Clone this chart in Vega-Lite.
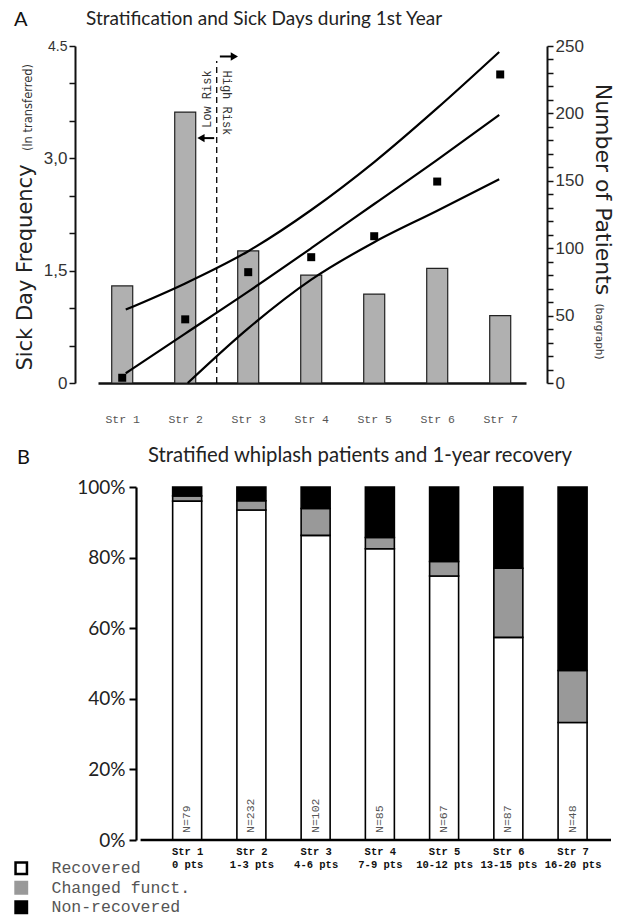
{
  "$schema": "https://vega.github.io/schema/vega-lite/v6.json",
  "background": "#ffffff",
  "padding": {"left": 13, "top": 10, "right": 5, "bottom": 5},
  "config": {"view": {"stroke": null}, "axis": {"grid": false}, "concat": {"spacing": 20}},
  "columns": 1,
  "spacing": 20,
  "resolve": {"scale": {"color": "independent", "shape": "independent"}, "legend": {"color": "independent", "shape": "independent"}},
  "concat": [
    {
      "title": {"text": "A", "anchor": "start", "font": "Lato", "fontSize": 20, "fontWeight": "normal", "color": "#111", "offset": -20},
      "resolve": {"scale": {"shape": "independent"}, "legend": {"shape": "independent"}},
      "vconcat": [
        {
          "width": 428,
          "height": 337,
          "title": {"text": "Stratification and Sick Days during 1st Year", "anchor": "start", "frame": "group", "dx": -12, "font": "Lato", "fontSize": 19, "fontWeight": "normal", "color": "#222", "offset": 8},
          "encoding": {
            "x": {
              "field": "stratum", "type": "quantitative", "title": null,
              "scale": {"domain": [0.695, 7.33], "nice": false, "zero": false},
              "axis": {"values": [1, 2, 3, 4, 5, 6, 7], "labelExpr": "'Str ' + datum.value", "ticks": false, "domainColor": "#111", "domainWidth": 2.5, "labelFont": "Liberation Mono", "labelFontSize": 11.5, "labelColor": "#555", "labelPadding": 30, "labelFlush": false, "labelOverlap": false}
            }
          },
          "layer": [
            {
              "data": {"values": [
                {"stratum": 1, "patients": 72}, {"stratum": 2, "patients": 201}, {"stratum": 3, "patients": 98},
                {"stratum": 4, "patients": 80}, {"stratum": 5, "patients": 66}, {"stratum": 6, "patients": 85}, {"stratum": 7, "patients": 50}
              ]},
              "mark": {"type": "bar", "size": 21, "fill": "#b0b0b0", "stroke": "#222", "strokeWidth": 1.2},
              "encoding": {
                "y": {
                  "field": "patients", "type": "quantitative",
                  "scale": {"domain": [0, 250], "nice": false},
                  "axis": {
                    "orient": "right", "offset": 21,
                    "values": [0, 10, 20, 30, 40, 50, 60, 70, 80, 90, 100, 110, 120, 130, 140, 150, 160, 170, 180, 190, 200, 210, 220, 230, 240, 250],
                    "labelExpr": "datum.value % 50 === 0 ? datum.label : ''",
                    "labelOverlap": false, "tickSize": 6, "tickWidth": 1.5, "tickColor": "#111", "domainColor": "#111", "domainWidth": 2,
                    "labelFont": "Liberation Sans", "labelFontSize": 17, "labelColor": "#333", "labelPadding": 2,
                    "title": "Number of Patients", "titleFont": "DejaVu Sans", "titleFontSize": 22, "titleFontWeight": "normal", "titleColor": "#222",
                    "titleAngle": 90, "titleX": 48, "titleY": 143, "titleAlign": "center", "titleBaseline": "alphabetic"
                  }
                }
              }
            },
            {
              "encoding": {
                "y": {
                  "field": "freq", "type": "quantitative",
                  "scale": {"domain": [0, 4.5], "nice": false},
                  "axis": {
                    "orient": "left", "offset": 23,
                    "values": [0, 0.5, 1, 1.5, 2, 2.5, 3, 3.5, 4, 4.5],
                    "labelExpr": "datum.value == 4.5 ? '4.5' : datum.value == 3 ? '3,0' : datum.value == 1.5 ? '1,5' : datum.value == 0 ? '0' : ''",
                    "labelOverlap": false, "tickSize": 6, "tickWidth": 1.5, "tickColor": "#111", "domainColor": "#111", "domainWidth": 2,
                    "labelFont": "Liberation Sans", "labelFontSize": {"condition": {"test": "datum.value == 4.5", "value": 14}, "value": 17}, "labelColor": "#333", "labelPadding": 2,
                    "title": "Sick Day Frequency", "titleFont": "DejaVu Sans", "titleFontSize": 21, "titleFontWeight": "normal", "titleColor": "#222",
                    "titleAngle": 270, "titleX": -44, "titleY": 221, "titleAlign": "center", "titleBaseline": "alphabetic"
                  }
                }
              },
              "layer": [
                {
                  "data": {"values": [
                    {"band": "upper", "stratum": 1.056, "freq": 0.98}, {"band": "upper", "stratum": 2, "freq": 1.33}, {"band": "upper", "stratum": 3, "freq": 1.76},
                    {"band": "upper", "stratum": 4, "freq": 2.31}, {"band": "upper", "stratum": 5, "freq": 2.95}, {"band": "upper", "stratum": 6, "freq": 3.67}, {"band": "upper", "stratum": 6.984, "freq": 4.42},
                    {"band": "middle", "stratum": 1.056, "freq": 0.13}, {"band": "middle", "stratum": 2, "freq": 0.66}, {"band": "middle", "stratum": 3, "freq": 1.22},
                    {"band": "middle", "stratum": 4, "freq": 1.8}, {"band": "middle", "stratum": 5, "freq": 2.39}, {"band": "middle", "stratum": 6, "freq": 2.98}, {"band": "middle", "stratum": 6.984, "freq": 3.58},
                    {"band": "lower", "stratum": 2.04, "freq": 0.0}, {"band": "lower", "stratum": 3, "freq": 0.73}, {"band": "lower", "stratum": 4, "freq": 1.38},
                    {"band": "lower", "stratum": 5, "freq": 1.88}, {"band": "lower", "stratum": 6, "freq": 2.3}, {"band": "lower", "stratum": 6.984, "freq": 2.72}
                  ]},
                  "mark": {"type": "line", "color": "#000", "strokeWidth": 2.2, "interpolate": "monotone"},
                  "encoding": {"detail": {"field": "band", "type": "nominal"}}
                },
                {
                  "data": {"values": [
                    {"stratum": 1, "freq": 0.07}, {"stratum": 2, "freq": 0.85}, {"stratum": 3, "freq": 1.48}, {"stratum": 4, "freq": 1.68},
                    {"stratum": 5, "freq": 1.96}, {"stratum": 6, "freq": 2.69}, {"stratum": 7, "freq": 4.12}
                  ]},
                  "mark": {"type": "square", "color": "#000", "size": 64, "opacity": 1}
                },
                {
                  "data": {"values": [
                    {"stratum": 2.46, "stratum_end": 2.25, "freq": 3.27, "dir": "left"},
                    {"stratum": 2.55, "stratum_end": 2.78, "freq": 4.36, "dir": "right"}
                  ]},
                  "mark": {"type": "rule", "color": "#000", "strokeWidth": 2},
                  "encoding": {"x2": {"field": "stratum_end"}}
                },
                {
                  "data": {"values": [
                    {"stratum": 2.46, "stratum_end": 2.25, "freq": 3.27, "dir": "left"},
                    {"stratum": 2.55, "stratum_end": 2.78, "freq": 4.36, "dir": "right"}
                  ]},
                  "mark": {"type": "point", "filled": true, "color": "#000", "size": 70, "opacity": 1},
                  "encoding": {
                    "x": {"field": "stratum_end", "type": "quantitative", "title": null, "scale": {"domain": [0.695, 7.33], "nice": false, "zero": false}},
                    "shape": {"field": "dir", "type": "nominal", "scale": {"domain": ["left", "right"], "range": ["triangle-left", "triangle-right"]}, "legend": null}
                  }
                }
              ]
            },
            {
              "data": {"values": [{"stratum": 2.5, "freq_bottom": 0, "freq_top": 4.3}]},
              "mark": {"type": "rule", "color": "#000", "strokeWidth": 1.3, "strokeDash": [6, 4]},
              "encoding": {
                "y": {
                  "field": "freq_bottom", "type": "quantitative",
                  "scale": {"domain": [0, 4.5], "nice": false},
                  "axis": {
                    "orient": "left", "offset": 23, "labels": false, "ticks": false, "domain": false,
                    "title": "(ln transferred)", "titleFont": "DejaVu Sans", "titleFontSize": 11.5, "titleFontWeight": "normal", "titleColor": "#333",
                    "titleAngle": 270, "titleX": -44, "titleY": 61, "titleAlign": "center", "titleBaseline": "alphabetic"
                  }
                },
                "y2": {"field": "freq_top"}
              }
            },
            {
              "data": {"values": [
                {"stratum": 2.35, "freq": 3.79, "label": "Low Risk"},
                {"stratum": 2.66, "freq": 3.74, "label": "High Risk"}
              ]},
              "mark": {"type": "text", "font": "Liberation Mono", "fontSize": 12, "color": "#333", "align": "center", "baseline": "middle"},
              "encoding": {
                "text": {"field": "label"},
                "angle": {"condition": {"test": "datum.label === 'Low Risk'", "value": 270}, "value": 90},
                "y": {
                  "field": "freq", "type": "quantitative",
                  "scale": {"domain": [0, 4.5], "nice": false},
                  "axis": {
                    "orient": "right", "offset": 21, "labels": false, "ticks": false, "domain": false,
                    "title": "(bargraph)", "titleFont": "DejaVu Sans", "titleFontSize": 10.5, "titleFontWeight": "normal", "titleColor": "#333",
                    "titleAngle": 90, "titleX": 48, "titleY": 285, "titleAlign": "center", "titleBaseline": "alphabetic"
                  }
                }
              }
            }
          ],
          "resolve": {"scale": {"y": "independent"}}
        }
      ]
    },
    {
      "title": {"text": "B", "anchor": "start", "dx": 4, "font": "Lato", "fontSize": 20, "fontWeight": "normal", "color": "#111", "offset": -22},
      "resolve": {"scale": {"color": "independent"}, "legend": {"color": "independent"}},
      "vconcat": [
        {
          "width": 518,
          "height": 353,
          "title": {"text": "Stratified whiplash patients and 1-year recovery", "anchor": "start", "frame": "group", "dx": 50, "font": "Lato", "fontSize": 20.3, "fontWeight": "normal", "color": "#222", "offset": 12},
          "data": {"values": [
            {"stratum": 1, "outcome": "Recovered", "pct": 96.0, "n": 79}, {"stratum": 1, "outcome": "Changed funct.", "pct": 1.5, "n": 79}, {"stratum": 1, "outcome": "Non-recovered", "pct": 2.5, "n": 79},
            {"stratum": 2, "outcome": "Recovered", "pct": 93.5, "n": 232}, {"stratum": 2, "outcome": "Changed funct.", "pct": 2.6, "n": 232}, {"stratum": 2, "outcome": "Non-recovered", "pct": 3.9, "n": 232},
            {"stratum": 3, "outcome": "Recovered", "pct": 86.3, "n": 102}, {"stratum": 3, "outcome": "Changed funct.", "pct": 7.6, "n": 102}, {"stratum": 3, "outcome": "Non-recovered", "pct": 6.1, "n": 102},
            {"stratum": 4, "outcome": "Recovered", "pct": 82.5, "n": 85}, {"stratum": 4, "outcome": "Changed funct.", "pct": 3.2, "n": 85}, {"stratum": 4, "outcome": "Non-recovered", "pct": 14.3, "n": 85},
            {"stratum": 5, "outcome": "Recovered", "pct": 74.8, "n": 67}, {"stratum": 5, "outcome": "Changed funct.", "pct": 4.1, "n": 67}, {"stratum": 5, "outcome": "Non-recovered", "pct": 21.1, "n": 67},
            {"stratum": 6, "outcome": "Recovered", "pct": 57.4, "n": 87}, {"stratum": 6, "outcome": "Changed funct.", "pct": 19.6, "n": 87}, {"stratum": 6, "outcome": "Non-recovered", "pct": 23.0, "n": 87},
            {"stratum": 7, "outcome": "Recovered", "pct": 33.3, "n": 48}, {"stratum": 7, "outcome": "Changed funct.", "pct": 14.7, "n": 48}, {"stratum": 7, "outcome": "Non-recovered", "pct": 52.0, "n": 48}
          ]},
          "encoding": {
            "x": {
              "field": "stratum", "type": "quantitative", "title": null,
              "scale": {"domain": [-0.31, 7.598], "nice": false, "zero": false},
              "axis": {
                "values": [1, 2, 3, 4, 5, 6, 7],
                "labelExpr": "['Str ' + datum.value, ['0 pts','1-3 pts','4-6 pts','7-9 pts','10-12 pts','13-15 pts','16-20 pts'][datum.value - 1]]",
                "ticks": false, "domain": false,
                "labelFont": "Liberation Mono", "labelFontWeight": "bold", "labelFontSize": 10.5, "labelColor": "#111", "labelPadding": 6, "labelLineHeight": 13,
                "labelFlush": false, "labelOverlap": false
              }
            }
          },
          "layer": [
            {
              "transform": [{"calculate": "indexof(['Recovered','Changed funct.','Non-recovered'], datum.outcome)", "as": "stack_rank"}],
              "mark": {"type": "bar", "size": 29, "stroke": "#000", "strokeWidth": 1.6},
              "encoding": {
                "y": {
                  "field": "pct", "type": "quantitative", "stack": "zero", "title": null,
                  "scale": {"domain": [0, 100], "nice": false},
                  "axis": {
                    "offset": -38,
                    "values": [0, 20, 40, 60, 80, 100], "labelExpr": "datum.value + '%'",
                    "tickSize": 7, "tickWidth": 2, "tickColor": "#000", "domainColor": "#000", "domainWidth": 2.2,
                    "labelFont": "Lato", "labelFontSize": 19, "labelColor": "#222", "labelPadding": 4
                  }
                },
                "color": {
                  "field": "outcome", "type": "nominal",
                  "sort": ["Recovered", "Changed funct.", "Non-recovered"],
                  "scale": {"domain": ["Recovered", "Changed funct.", "Non-recovered"], "range": ["#ffffff", "#999999", "#000000"]},
                  "legend": {
                    "title": null, "orient": "none", "legendX": -85, "legendY": 373, "padding": 0,
                    "symbolType": "square", "symbolSize": 130, "symbolStrokeColor": "#000", "symbolStrokeWidth": 2.5,
                    "labelFont": "Liberation Mono", "labelFontSize": 16.5, "labelColor": "#555", "labelOffset": 22, "rowPadding": -2.5,
                    "encode": {"symbols": {"update": {"stroke": {"signal": "datum.value === 'Changed funct.' ? '#999999' : '#000000'"}}}}
                  }
                },
                "order": {"field": "stack_rank", "type": "quantitative"}
              }
            },
            {
              "data": {"values": [{"stratum": 0.275, "stratum_end": 7.598, "base": 0}]},
              "mark": {"type": "rule", "color": "#000", "strokeWidth": 2.5},
              "encoding": {
                "x2": {"field": "stratum_end"},
                "y": {"field": "base", "type": "quantitative", "title": null}
              }
            },
            {
              "transform": [
                {"filter": "datum.outcome === 'Recovered'"},
                {"calculate": "'N=' + datum.n", "as": "nlabel"}
              ],
              "mark": {"type": "text", "angle": 270, "align": "left", "baseline": "middle", "dx": 7, "font": "Liberation Mono", "fontSize": 11.5, "color": "#555"},
              "encoding": {
                "y": {"datum": 0},
                "text": {"field": "nlabel"}
              }
            }
          ]
        }
      ]
    }
  ]
}
